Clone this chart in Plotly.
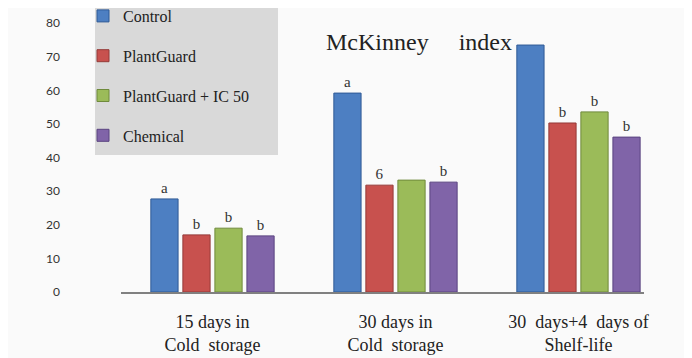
import plotly.graph_objects as go

categories = ["15 days in<br>Cold\u00a0\u00a0storage", "30 days in<br>Cold\u00a0\u00a0storage",
              "30\u00a0\u00a0days+4\u00a0\u00a0days of<br>Shelf-life"]
series_names = ["Control", "PlantGuard", "PlantGuard + IC 50", "Chemical"]
control = [27.7, 59.2, 73.5]
plantguard = [17.0, 31.8, 50.3]
plantguard_ic50 = [19.0, 33.3, 53.6]
chemical = [16.7, 32.7, 46.1]
letters_control = ["a", "a", ""]
letters_plantguard = ["b", "6", "b"]
letters_ic50 = ["b", "", "b"]
letters_chemical = ["b", "b", "b"]
y_ticks = [0, 10, 20, 30, 40, 50, 60, 70, 80]

values = [control, plantguard, plantguard_ic50, chemical]
letters = [letters_control, letters_plantguard, letters_ic50, letters_chemical]
colors = ["#4d7fc2", "#c8514e", "#9bbb59", "#8064a8"]
edges = ["#2f5a96", "#943a38", "#6f8a3c", "#5a4480"]

serif = "Liberation Serif, Times New Roman, serif"

# the page body adds an 8px offset; work in page pixels and subtract it
O = 8
W, H = 692 - O, 358 - O
L = 121 - O
R = W - (644 - O)
T = 10 - O
B = H - (292 - O)
ph = H - T - B
pw = W - L - R


def px(xp):  # page x -> paper x
    return (xp - O - L) / pw


def py(yp):  # page y -> paper y
    return (H - B - (yp - O)) / ph


fig = go.Figure()
for i, name in enumerate(series_names):
    fig.add_trace(go.Bar(
        x=categories, y=values[i], name=name,
        marker=dict(color=colors[i], line=dict(color=edges[i], width=1)),
        text=letters[i], textposition="outside", cliponaxis=False,
        textfont=dict(family=serif, size=15, color="#333333"),
        legendgroup=name,
    ))

fig.update_layout(
    width=W, height=H,
    margin=dict(l=L, r=R, t=T, b=B, pad=0, autoexpand=False),
    paper_bgcolor="#fafafa", plot_bgcolor="rgba(0,0,0,0)",
    barmode="group", bargap=0.30, bargroupgap=0.15,
    showlegend=True,
    legend=dict(
        xref="paper", yref="paper",
        x=px(83), y=py(-1), xanchor="left", yanchor="top",
        bgcolor="rgba(0,0,0,0)", font=dict(family=serif, size=16, color="#222222"),
        tracegroupgap=16, itemwidth=30, traceorder="grouped",
    ),
    title=dict(
        text="McKinney\u00a0\u00a0\u00a0\u00a0\u00a0index",
        xref="container", yref="container",
        x=(419 - O) / W, y=1 - (42 - O) / H, xanchor="center", yanchor="middle",
        font=dict(family=serif, size=24, color="#222222"),
    ),
    shapes=[dict(
        type="rect", xref="paper", yref="paper", layer="below",
        x0=px(95), x1=px(278), y0=py(155), y1=py(0),
        fillcolor="#d9d9d9", line=dict(width=0),
    )],
    xaxis=dict(
        range=[-0.5, 2.358], showgrid=False, zeroline=False,
        showline=True, linecolor="#808080", linewidth=2,
        ticks="", ticklabelstandoff=12,
        tickfont=dict(family=serif, size=18, color="#222222"),
    ),
    yaxis=dict(
        range=[0, ph / 3.36], tickvals=y_ticks, showgrid=False, zeroline=False,
        showline=False, ticks="", ticklabelstandoff=60,
        tickfont=dict(family="Lato, Open Sans, sans-serif", size=12, color="#333333"),
    ),
)

fig.write_html("out.html")
